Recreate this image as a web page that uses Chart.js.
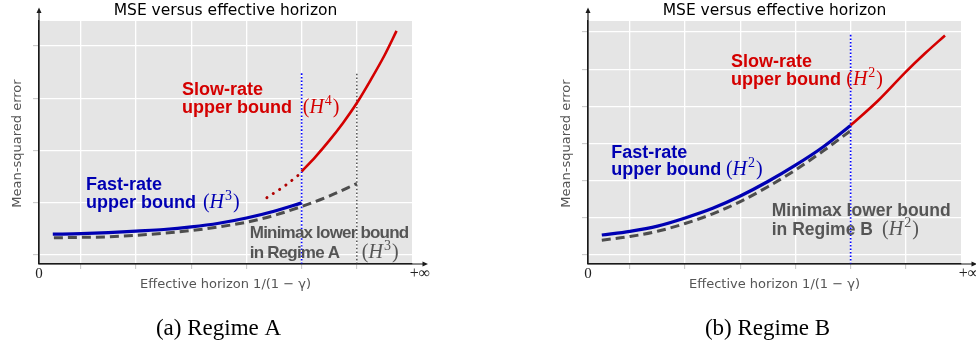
<!DOCTYPE html>
<html>
<head>
<meta charset="utf-8">
<script src="https://cdn.jsdelivr.net/npm/chart.js@4"></script>
<style>
  body { margin: 0; background: #fff; }
  #wrap { position: relative; width: 976px; height: 349px; overflow: hidden; }
  canvas { position: absolute; top: 0; }
</style>
</head>
<body>
<div id="wrap">
  <canvas id="chart-a" width="549" height="349" style="left:0"></canvas>
  <canvas id="chart-b" width="427" height="349" style="left:549px"></canvas>
</div>
<script>
// tick positions (no numeric labels are shown, only 0 and +inf)
const xTicks = [1, 2, 3, 4, 5, 6];
const yTicksA = [0, 1, 2, 3, 4];
const yTicksB = [0, 1, 2, 3, 4, 5, 6];

// Regime A
const fastAx = [0.49, 1.0, 1.5, 2.0, 2.5, 3.0, 3.5, 4.0, 4.5, 5.0];
const fastAy = [0.40, 0.41, 0.43, 0.46, 0.49, 0.54, 0.61, 0.71, 0.84, 1.0];
const lowerAx = [0.51, 1.0, 1.5, 2.0, 2.5, 3.0, 3.5, 4.0, 4.5, 5.0, 5.5, 6.0];
const lowerAy = [0.33, 0.34, 0.35, 0.38, 0.42, 0.47, 0.54, 0.63, 0.76, 0.93, 1.13, 1.37];
const slowDotAx = [4.37, 4.7, 5.0];
const slowDotAy = [1.10, 1.33, 1.58];
const slowAx = [5.0, 5.25, 5.5, 5.75, 6.0, 6.25, 6.5, 6.72];
const slowAy = [1.60, 1.88, 2.19, 2.53, 2.91, 3.35, 3.82, 4.29];
const splitAx = [5.0, 5.0];
const splitAy = [-0.17, 3.48];
const lowerEndAx = [6.0, 6.0];
const lowerEndAy = [-0.17, 3.48];

// Regime B
const fastBx = [0.49, 1.0, 1.5, 2.0, 2.5, 3.0, 3.5, 4.0, 4.5, 5.0];
const fastBy = [0.54, 0.64, 0.78, 1.0, 1.26, 1.59, 1.98, 2.42, 2.91, 3.49];
const lowerBx = [0.49, 1.0, 1.5, 2.0, 2.5, 3.0, 3.5, 4.0, 4.5, 5.0];
const lowerBy = [0.40, 0.50, 0.64, 0.85, 1.11, 1.44, 1.84, 2.29, 2.80, 3.35];
const slowBx = [5.0, 5.5, 6.0, 6.35, 6.71];
const slowBy = [3.49, 4.16, 4.93, 5.43, 5.91];
const splitBx = [5.0, 5.0];
const splitBy = [-0.24, 5.97];

const pts = (xs, ys) => xs.map((x, i) => ({ x: x, y: ys[i] }));

const RED = '#d40000';
const BLUE = '#0000b3';
const GRAY = '#555555';

// backdrop, arrows, texts
const decor = {
  id: 'decor',
  beforeDraw(chart) {
    const { ctx, chartArea: a } = chart;
    ctx.save();
    ctx.fillStyle = '#e5e5e5';
    ctx.fillRect(a.left, a.top, a.right - a.left, a.bottom - a.top);
    ctx.restore();
  },
  afterDraw(chart, args, o) {
    const { ctx, chartArea: a, scales } = chart;
    const sx = scales.x, sy = scales.y;
    ctx.save();
    // axis arrows
    ctx.strokeStyle = '#1a1a1a';
    ctx.fillStyle = '#1a1a1a';
    ctx.lineWidth = 1.2;
    ctx.beginPath();
    ctx.moveTo(a.left, a.bottom);
    ctx.lineTo(a.left, 12);
    ctx.moveTo(a.left, a.bottom);
    ctx.lineTo(a.right + 12, a.bottom);
    ctx.stroke();
    ctx.beginPath();
    ctx.moveTo(a.left, 7.5); ctx.lineTo(a.left - 2.5, 13); ctx.lineTo(a.left + 2.5, 13); ctx.closePath();
    ctx.moveTo(a.right + 16, a.bottom); ctx.lineTo(a.right + 10.5, a.bottom - 2.5); ctx.lineTo(a.right + 10.5, a.bottom + 2.5); ctx.closePath();
    ctx.fill();

    const cx = (a.left + a.right) / 2;
    // title
    ctx.fillStyle = '#000';
    ctx.font = '15.5px "DejaVu Sans"';
    ctx.textAlign = 'center';
    ctx.textBaseline = 'alphabetic';
    ctx.fillText(o.title, cx, 14.5);
    // axis labels
    ctx.fillStyle = GRAY;
    ctx.font = '13px "DejaVu Sans"';
    ctx.fillText(o.xLabel, cx, 288);
    ctx.save();
    ctx.translate(21, (a.top + a.bottom) / 2 + 1);
    ctx.rotate(-Math.PI / 2);
    ctx.fillText(o.yLabel, 0, 0);
    ctx.restore();
    // 0 and +inf
    ctx.fillStyle = '#222';
    ctx.font = '15px "Liberation Serif"';
    ctx.fillText('0', a.left, 278);
    ctx.font = '16px "Liberation Serif"';
    ctx.fillText('+\u221e', a.right + 8, 278);
    // caption
    ctx.fillStyle = '#000';
    ctx.font = '23px "Liberation Serif"';
    ctx.fillText(o.caption, cx - 7, 335);

    // annotations
    ctx.textAlign = 'left';
    o.notes.forEach(n => {
      ctx.fillStyle = n.color;
      ctx.font = 'bold ' + n.size + 'px "Liberation Sans"';
      ctx.letterSpacing = (n.spacing || 0) + 'px';
      const x = sx.getPixelForValue(n.x);
      n.lines.forEach((line, i) => ctx.fillText(line, x, sy.getPixelForValue(n.y[i])));
      ctx.letterSpacing = '0px';
      drawMath(ctx, sx.getPixelForValue(n.mathX), sy.getPixelForValue(n.y[n.y.length - 1]), n.sup, n.color, 20);
    });
    ctx.restore();
  }
};

function drawMath(ctx, x, y, sup, color, size) {
  ctx.fillStyle = color;
  ctx.font = size + 'px "Liberation Serif"';
  ctx.fillText('(', x, y);
  x += ctx.measureText('(').width;
  ctx.font = 'italic ' + size + 'px "Liberation Serif"';
  ctx.fillText('H', x, y);
  x += ctx.measureText('H').width + 1;
  ctx.font = Math.round(size * 0.68) + 'px "Liberation Serif"';
  ctx.fillText(sup, x, y - size * 0.4);
  x += ctx.measureText(sup).width + 1;
  ctx.font = size + 'px "Liberation Serif"';
  ctx.fillText(')', x, y);
}

function curve(data, color, width, dash, cap) {
  return {
    data: data, showLine: true, borderColor: color, borderWidth: width,
    borderDash: dash || [], borderCapStyle: cap || 'butt',
    cubicInterpolationMode: 'monotone', pointRadius: 0, fill: false
  };
}

function makeChart(id, cfg) {
  return new Chart(document.getElementById(id), {
    type: 'scatter',
    data: { datasets: cfg.datasets },
    options: {
      responsive: false,
      animation: false,
      devicePixelRatio: 1,
      layout: { padding: cfg.padding },
      plugins: { legend: { display: false }, tooltip: { enabled: false }, decor: cfg.decor },
      scales: {
        x: {
          type: 'linear', min: 0.24, max: 7.0,
          afterBuildTicks: s => { s.ticks = xTicks.map(v => ({ value: v })); },
          ticks: { display: false },
          grid: { color: '#ffffff', lineWidth: 1.3, tickLength: 5, tickColor: '#c4c4c4', tickWidth: 1 },
          border: { color: '#1a1a1a', width: 1.2 }
        },
        y: {
          type: 'linear', min: cfg.yMin, max: cfg.yMax,
          afterBuildTicks: s => { s.ticks = cfg.yTicks.map(v => ({ value: v })); },
          ticks: { display: false },
          grid: { color: '#ffffff', lineWidth: 1.3, tickLength: 6, tickColor: '#c4c4c4', tickWidth: 1 },
          border: { color: '#1a1a1a', width: 1.2 }
        }
      }
    },
    plugins: [decor]
  });
}

makeChart('chart-a', {
  padding: { left: 33, top: 21, right: 137, bottom: 80 },
  yMin: -0.17, yMax: 4.48, yTicks: yTicksA,
  datasets: [
    curve(pts(lowerAx, lowerAy), '#4d4d4d', 3, [9, 5]),
    curve(pts(fastAx, fastAy), BLUE, 3.2),
    curve(pts(slowDotAx, slowDotAy), '#b00000', 3, [0.1, 7.5], 'round'),
    curve(pts(slowAx, slowAy), RED, 2.6),
    curve(pts(splitAx, splitAy), '#0000ff', 1.7, [1.5, 2]),
    curve(pts(lowerEndAx, lowerEndAy), '#444444', 1.4, [1.5, 2.2])
  ],
  decor: {
    title: 'MSE versus effective horizon',
    xLabel: 'Effective horizon 1/(1 \u2212 \u03b3)',
    yLabel: 'Mean-squared error',
    caption: '(a) Regime A',
    notes: [
      { lines: ['Slow-rate', 'upper bound'], x: 2.83, y: [3.06, 2.71], color: RED, size: 18, mathX: 5.02, sup: '4' },
      { lines: ['Fast-rate', 'upper bound'], x: 1.09, y: [1.25, 0.90], color: BLUE, size: 18, mathX: 3.21, sup: '3' },
      { lines: ['Minimax lower bound', 'in Regime A'], x: 4.06, y: [0.33, -0.06], color: GRAY, size: 17, spacing: -0.8, mathX: 6.09, sup: '3' }
    ]
  }
});

makeChart('chart-b', {
  padding: { left: 33, top: 21, right: 15, bottom: 80 },
  yMin: -0.24, yMax: 6.3, yTicks: yTicksB,
  datasets: [
    curve(pts(lowerBx, lowerBy), '#4d4d4d', 3, [9, 5]),
    curve(pts(fastBx, fastBy), BLUE, 3.2),
    curve(pts(slowBx, slowBy), RED, 2.6),
    curve(pts(splitBx, splitBy), '#0000ff', 1.7, [1.5, 2])
  ],
  decor: {
    title: 'MSE versus effective horizon',
    xLabel: 'Effective horizon 1/(1 \u2212 \u03b3)',
    yLabel: 'Mean-squared error',
    caption: '(b) Regime B',
    notes: [
      { lines: ['Slow-rate', 'upper bound'], x: 2.83, y: [5.06, 4.59], color: RED, size: 18, mathX: 4.92, sup: '2' },
      { lines: ['Fast-rate', 'upper bound'], x: 0.66, y: [2.62, 2.16], color: BLUE, size: 18, mathX: 2.74, sup: '2' },
      { lines: ['Minimax lower bound', 'in Regime B'], x: 3.57, y: [1.05, 0.54], color: GRAY, size: 17.5, mathX: 5.57, sup: '2' }
    ]
  }
});
</script>
</body>
</html>
